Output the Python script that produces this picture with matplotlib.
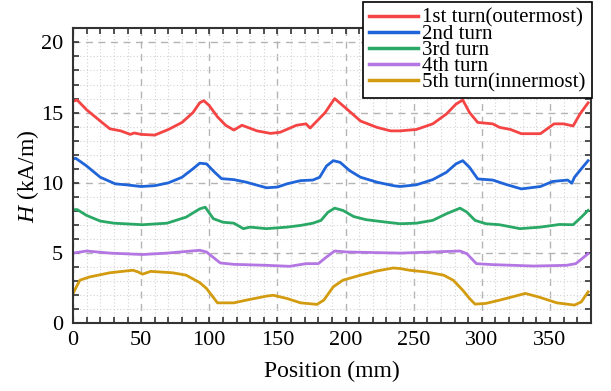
import matplotlib
matplotlib.use("Agg")
import matplotlib.pyplot as plt
from matplotlib.ticker import MultipleLocator

plt.rcParams['font.family'] = ['Liberation Serif', 'DejaVu Serif']
plt.rcParams['mathtext.fontset'] = 'custom'
plt.rcParams['mathtext.it'] = 'Liberation Serif:italic'
plt.rcParams['mathtext.rm'] = 'Liberation Serif'

# Field along the winding, one curve per turn (position in mm, H in kA/m)
x1 = [0, 3, 10, 20, 27, 35, 42, 45, 50, 60, 70, 80, 88, 93, 96, 100, 106, 112, 118,
      124, 135, 145, 152, 164, 171, 174, 180, 185, 192, 201, 211, 223, 233, 240,
      252, 264, 274, 281, 286, 291, 297, 308, 313, 321, 329, 343, 353, 360, 367, 372, 378]
h1 = [15.8, 15.9, 15.2, 14.4, 13.85, 13.7, 13.45, 13.55, 13.45, 13.4, 13.8, 14.3, 15.0,
      15.7, 15.85, 15.5, 14.7, 14.1, 13.76, 14.1, 13.7, 13.52, 13.6, 14.1, 14.2, 13.9,
      14.5, 15.0, 16.0, 15.25, 14.4, 13.95, 13.7, 13.7, 13.8, 14.2, 14.9, 15.6, 15.9,
      15.0, 14.3, 14.2, 13.95, 13.8, 13.5, 13.5, 14.2, 14.2, 14.05, 14.9, 15.7]

x2 = [0, 2, 10, 20, 31, 40, 50, 60, 70, 80, 88, 93, 98, 104, 109, 118, 127, 142, 150,
      157, 167, 176, 181, 186, 191, 196, 203, 211, 223, 235, 240, 252, 264, 274,
      281, 286, 291, 297, 308, 318, 329, 343, 352, 363, 366, 368, 373, 378]
h2 = [11.7, 11.75, 11.2, 10.4, 9.93, 9.85, 9.74, 9.8, 10.0, 10.4, 11.0, 11.4, 11.35,
      10.75, 10.3, 10.23, 10.05, 9.65, 9.7, 9.93, 10.16, 10.2, 10.4, 11.2, 11.58,
      11.46, 10.87, 10.4, 10.05, 9.8, 9.74, 9.86, 10.23, 10.75, 11.35, 11.58, 11.1,
      10.28, 10.2, 9.88, 9.57, 9.74, 10.1, 10.2, 9.97, 10.4, 11.0, 11.58]

x3 = [0, 3, 10, 20, 30, 51, 69, 83, 93, 97, 103, 110, 118, 125, 130, 142, 157, 167,
      176, 182, 187, 192, 198, 206, 215, 230, 240, 252, 264, 274, 284, 289, 295,
      303, 313, 328, 343, 357, 367, 373, 378]
h3 = [8.08, 8.1, 7.68, 7.28, 7.13, 7.02, 7.13, 7.56, 8.15, 8.27, 7.45, 7.2, 7.13, 6.74,
      6.85, 6.74, 6.85, 6.97, 7.13, 7.33, 7.9, 8.2, 8.04, 7.6, 7.38, 7.2, 7.09, 7.13,
      7.33, 7.8, 8.2, 7.92, 7.33, 7.09, 7.02, 6.74, 6.85, 7.04, 7.02, 7.56, 8.04]

x4 = [0, 10, 27, 51, 69, 93, 98, 108, 118, 142, 159, 171, 180, 186, 192, 201, 240,
      264, 284, 289, 296, 308, 338, 362, 369, 378]
h4 = [5.0, 5.15, 5.0, 4.9, 5.0, 5.2, 5.08, 4.3, 4.2, 4.13, 4.06, 4.25, 4.25, 4.72, 5.15,
      5.08, 5.0, 5.08, 5.15, 4.96, 4.25, 4.18, 4.08, 4.13, 4.25, 4.96]

x5 = [0, 5, 12, 27, 39, 44, 48, 51, 57, 73, 83, 93, 98, 106, 118, 127, 142, 147, 157,
      167, 179, 184, 191, 198, 211, 223, 235, 240, 247, 259, 272, 279, 286, 291,
      295, 303, 313, 332, 343, 355, 368, 373, 378]
h5 = [2.13, 3.07, 3.3, 3.6, 3.73, 3.78, 3.65, 3.5, 3.7, 3.6, 3.43, 2.9, 2.48, 1.46,
      1.46, 1.65, 1.94, 2.0, 1.77, 1.46, 1.35, 1.65, 2.6, 3.07, 3.43, 3.73, 3.94, 3.9,
      3.78, 3.66, 3.43, 3.07, 2.36, 1.77, 1.37, 1.42, 1.65, 2.13, 1.84, 1.46, 1.3,
      1.53, 2.24]

labels = ['1st turn(outermost)', '2nd turn', '3rd turn', '4th turn', '5th turn(innermost)']
colors = ['#f44444', '#1f64d8', '#2aa866', '#b376e2', '#d39c10']

fig = plt.figure(figsize=(6.11, 3.91), dpi=100)
ax = fig.add_axes([0.1195, 0.173, 0.8475, 0.7546])

for xs, hs, lab, c in zip([x1, x2, x3, x4, x5], [h1, h2, h3, h4, h5], labels, colors):
    ax.plot(xs, hs, color=c, lw=2.0, label=lab, solid_joinstyle='round')

ax.set_xlim(0, 380)
ax.set_ylim(0, 21)
ax.xaxis.set_major_locator(MultipleLocator(50))
ax.xaxis.set_minor_locator(MultipleLocator(10))
ax.yaxis.set_major_locator(MultipleLocator(5))
ax.yaxis.set_minor_locator(MultipleLocator(1))

ax.grid(which='major', color='#b4b4b4', linestyle=(0, (5, 4)), linewidth=1.0)
ax.grid(which='minor', color='#d2d2d2', linestyle=(0, (1, 2)), linewidth=0.8)
ax.set_axisbelow(True)

ax.tick_params(which='both', direction='in', top=True, right=True,
               length=4.5, width=1.2, color='#333333')
ax.tick_params(which='major', labelsize=16)
ax.tick_params(axis='x', which='major', pad=5.5)
ax.tick_params(axis='y', which='major', pad=7)
for s in ax.spines.values():
    s.set_linewidth(1.5)
    s.set_color('#333333')

ax.set_xlabel('Position (mm)', fontsize=17, labelpad=8)
ax.set_ylabel(r'$H$ (kA/m)', fontsize=17, labelpad=0)

leg = ax.legend(loc='upper right', bbox_to_anchor=(592 / 611, 1 - 2 / 391),
                bbox_transform=fig.transFigure, fontsize=15, frameon=True,
                fancybox=False, edgecolor='black', framealpha=1,
                handlelength=2.35, handletextpad=0.2, labelspacing=-0.17,
                borderpad=0.3, borderaxespad=0)
leg.get_frame().set_linewidth(1.2)
for line in leg.get_lines():
    line.set_linewidth(2.5)

fig.savefig('out.png', dpi=100)
